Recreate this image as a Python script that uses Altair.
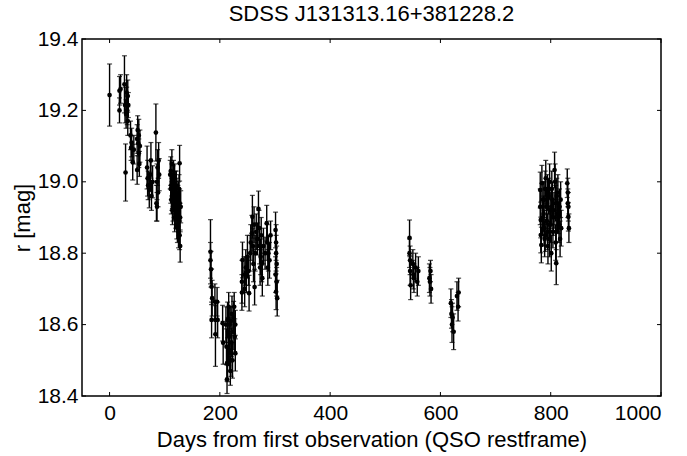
import altair as alt
import pandas as pd

# ---- data (days, r magnitude, 1-sigma error) ----
days = [
    0, 18, 18, 20, 27, 28, 29, 31, 31, 32, 33, 34, 30, 33,
    38, 39, 42, 44, 50, 51, 52, 53, 54, 50, 55, 40, 53,
    68, 69, 70, 72, 74, 75, 76, 78, 84, 85, 86, 87, 88, 89, 90, 86,
    110, 111, 112, 113, 114, 115, 116, 117, 118, 119, 120, 121, 122, 123, 124, 125, 126, 127, 127, 128, 128, 118, 113, 122,
    111, 112, 114, 115, 116, 117, 119, 120, 121, 123, 124, 126, 127, 125, 129,
    183, 183, 184, 185, 186, 185, 191, 192, 192, 195, 196,
    205, 206, 211, 212, 213, 213, 214, 215, 216, 217, 218, 219, 220, 221, 222, 223, 226, 227, 228, 228,
    214, 216, 218, 220, 224, 225,
    240, 240, 241, 244, 245, 247, 250, 252, 253, 255, 258, 259, 260, 261, 263, 264, 266, 270, 271, 272, 274, 276, 277, 279, 285, 286, 288, 290, 292,
    248, 256, 262, 268, 273, 275, 282, 287,
    301, 302, 302, 303, 301, 302, 304, 303,
    544, 544, 545, 545, 546, 550, 551, 552, 555, 558, 560,
    580, 581, 582, 583,
    619, 620, 621, 622, 624, 630, 632, 633,
    781, 781, 782, 782, 783, 784, 786, 787, 788, 789, 790, 792, 793, 794, 795, 796, 798, 799, 800, 801, 803, 805, 807, 808, 809, 810, 810, 812, 813, 815, 816, 817,
    785, 788, 790, 791, 794, 797, 798, 801, 802, 804, 806, 809, 811, 814, 818, 819,
    830, 831, 831, 832, 832, 833,
]
mags = [
    19.243, 19.255, 19.20, 19.26, 19.273, 19.215, 19.026, 19.25, 19.225, 19.20, 19.17, 19.215, 19.19, 19.24,
    19.13, 19.095, 19.055, 19.09, 19.12, 19.145, 19.108, 19.08, 19.05, 19.033, 19.10, 19.11, 19.13,
    19.04, 19.01, 18.99, 18.977, 19.02, 19.06, 18.96, 19.00, 19.138, 18.94, 19.00, 19.04, 18.97, 19.06, 19.02, 18.93,
    19.02, 18.98, 18.95, 19.05, 18.92, 19.00, 18.97, 18.94, 18.90, 18.99, 18.96, 18.93, 18.88, 18.91, 18.95, 18.86, 18.98, 19.052, 18.94, 18.90, 18.82, 19.01, 18.96, 18.97,
    19.03, 18.99, 18.97, 18.93, 19.02, 18.98, 18.94, 18.91, 18.99, 18.87, 18.92, 18.89, 18.85, 18.96, 18.93,
    18.804, 18.78, 18.755, 18.706, 18.674, 18.613, 18.664, 18.613, 18.573, 18.664, 18.613,
    18.604, 18.549, 18.60, 18.538, 18.492, 18.447, 18.613, 18.58, 18.65, 18.566, 18.52, 18.47, 18.61, 18.55, 18.63, 18.50, 18.65, 18.566, 18.60, 18.52,
    18.49, 18.53, 18.60, 18.50, 18.58, 18.62,
    18.72, 18.69, 18.781, 18.74, 18.70, 18.76, 18.79, 18.75, 18.688, 18.80, 18.856, 18.902, 18.82, 18.77, 18.705, 18.80, 18.86, 18.924, 18.87, 18.82, 18.79, 18.77, 18.73, 18.82, 18.884, 18.83, 18.80, 18.78, 18.85,
    18.74, 18.83, 18.88, 18.84, 18.76, 18.85, 18.80, 18.76,
    18.865, 18.83, 18.80, 18.77, 18.74, 18.692, 18.674, 18.72,
    18.843, 18.80, 18.78, 18.75, 18.71, 18.77, 18.74, 18.73, 18.76, 18.72, 18.75,
    18.73, 18.72, 18.75, 18.70,
    18.66, 18.63, 18.60, 18.62, 18.58, 18.68, 18.65, 18.69,
    18.977, 18.93, 18.893, 18.851, 18.823, 18.996, 18.95, 18.91, 18.87, 18.84, 18.98, 18.93, 18.89, 18.86, 18.82, 18.96, 19.00, 18.92, 18.88, 18.80, 18.95, 18.90, 19.033, 19.00, 18.94, 18.772, 18.86, 18.91, 18.97, 18.88, 18.93, 18.84,
    18.90, 18.95, 18.85, 19.01, 18.97, 18.88, 18.84, 18.93, 18.98, 18.86, 18.92, 18.83, 18.96, 18.90, 18.95, 18.87,
    18.996, 18.97, 18.94, 18.902, 18.93, 18.87,
]
errs = [
    0.087, 0.04, 0.035, 0.04, 0.08, 0.05, 0.08, 0.05, 0.04, 0.04, 0.04, 0.035, 0.04, 0.045,
    0.04, 0.035, 0.05, 0.04, 0.04, 0.04, 0.035, 0.04, 0.035, 0.04, 0.045, 0.04, 0.045,
    0.06, 0.05, 0.04, 0.05, 0.04, 0.05, 0.04, 0.045, 0.08, 0.05, 0.05, 0.05, 0.04, 0.05, 0.045, 0.04,
    0.04, 0.04, 0.04, 0.04, 0.04, 0.045, 0.04, 0.04, 0.04, 0.04, 0.04, 0.04, 0.04, 0.04, 0.04, 0.045, 0.04, 0.05, 0.04, 0.04, 0.045, 0.04, 0.04, 0.04,
    0.04, 0.04, 0.045, 0.04, 0.04, 0.04, 0.045, 0.04, 0.04, 0.04, 0.045, 0.04, 0.04, 0.04, 0.045,
    0.09, 0.05, 0.05, 0.05, 0.05, 0.05, 0.05, 0.04, 0.09, 0.04, 0.05,
    0.05, 0.06, 0.05, 0.05, 0.05, 0.04, 0.05, 0.04, 0.04, 0.05, 0.05, 0.04, 0.04, 0.04, 0.05, 0.05, 0.04, 0.05, 0.04, 0.05,
    0.05, 0.045, 0.05, 0.045, 0.05, 0.045,
    0.06, 0.05, 0.05, 0.05, 0.05, 0.05, 0.06, 0.04, 0.05, 0.05, 0.05, 0.06, 0.05, 0.05, 0.05, 0.05, 0.05, 0.05, 0.05, 0.05, 0.05, 0.05, 0.05, 0.05, 0.05, 0.05, 0.05, 0.05, 0.04,
    0.05, 0.05, 0.05, 0.045, 0.05, 0.05, 0.045, 0.05,
    0.05, 0.05, 0.05, 0.05, 0.05, 0.05, 0.05, 0.04,
    0.05, 0.04, 0.04, 0.04, 0.04, 0.04, 0.04, 0.04, 0.04, 0.04, 0.04,
    0.04, 0.04, 0.03, 0.04,
    0.04, 0.04, 0.05, 0.04, 0.05, 0.04, 0.04, 0.04,
    0.05, 0.05, 0.05, 0.05, 0.05, 0.05, 0.05, 0.05, 0.05, 0.05, 0.05, 0.05, 0.05, 0.05, 0.05, 0.05, 0.05, 0.05, 0.05, 0.05, 0.05, 0.05, 0.05, 0.05, 0.05, 0.06, 0.05, 0.05, 0.05, 0.05, 0.05, 0.05,
    0.05, 0.05, 0.045, 0.05, 0.05, 0.045, 0.05, 0.05, 0.05, 0.045, 0.05, 0.05, 0.05, 0.045, 0.05, 0.05,
    0.04, 0.04, 0.04, 0.04, 0.04, 0.04,
]

x_ticks = [0, 200, 400, 600, 800, 1000]
y_ticks = [18.4, 18.6, 18.8, 19.0, 19.2, 19.4]

title_text = "SDSS J131313.16+381228.2"
x_title = "Days from first observation (QSO restframe)"
y_title = "r [mag]"

# ---- build tables ----
df = pd.DataFrame({"day": days, "mag": mags, "err": errs})
df["lo"] = df["mag"] - df["err"]
df["hi"] = df["mag"] + df["err"]
xt = pd.DataFrame({"t": x_ticks})
yt = pd.DataFrame({"t": y_ticks})

W, H = 579, 357
FONT = "Liberation Sans"

xscale = alt.Scale(domain=[-50, 1000], nice=False, zero=False)
yscale = alt.Scale(domain=[18.4, 19.4], nice=False, zero=False)

xaxis = alt.Axis(values=x_ticks, format="d", ticks=False, domain=False, grid=False,
                 title=x_title, labelFontSize=21, titleFontSize=22, labelPadding=6,
                 titlePadding=6, labelFont=FONT, titleFont=FONT, labelColor="black",
                 titleColor="black", titleFontWeight="normal")
yaxis = alt.Axis(values=y_ticks, format=".1f", ticks=False, domain=False, grid=False,
                 title=y_title, labelFontSize=21, titleFontSize=22, labelPadding=4,
                 titlePadding=3, labelFont=FONT, titleFont=FONT, labelColor="black",
                 titleColor="black", titleFontWeight="normal")

base = alt.Chart(df)

bars = base.mark_rule(color="black", strokeWidth=1.4, clip=True).encode(
    x=alt.X("day:Q", scale=xscale, axis=xaxis),
    y=alt.Y("lo:Q", scale=yscale, axis=yaxis),
    y2="hi:Q",
)
cap_lo = base.mark_tick(color="black", orient="horizontal", size=5, thickness=1.2, clip=True).encode(
    x=alt.X("day:Q", scale=xscale), y=alt.Y("lo:Q", scale=yscale))
cap_hi = base.mark_tick(color="black", orient="horizontal", size=5, thickness=1.2, clip=True).encode(
    x=alt.X("day:Q", scale=xscale), y=alt.Y("hi:Q", scale=yscale))
pts = base.mark_circle(color="black", size=22, opacity=1, clip=True).encode(
    x=alt.X("day:Q", scale=xscale), y=alt.Y("mag:Q", scale=yscale))

# inward tick marks on all four sides
top_t = alt.Chart(xt).mark_rule(color="black", strokeWidth=1).encode(
    x=alt.X("t:Q", scale=xscale), y=alt.value(0), y2=alt.value(4))
bot_t = alt.Chart(xt).mark_rule(color="black", strokeWidth=1).encode(
    x=alt.X("t:Q", scale=xscale), y=alt.value(H), y2=alt.value(H - 4))
left_t = alt.Chart(yt).mark_rule(color="black", strokeWidth=1).encode(
    y=alt.Y("t:Q", scale=yscale), x=alt.value(0), x2=alt.value(4))
right_t = alt.Chart(yt).mark_rule(color="black", strokeWidth=1).encode(
    y=alt.Y("t:Q", scale=yscale), x=alt.value(W), x2=alt.value(W - 4))

chart = alt.layer(bars, cap_lo, cap_hi, pts, top_t, bot_t, left_t, right_t).properties(
    width=W, height=H,
    title=alt.Title(title_text, fontSize=22, font=FONT, fontWeight="normal", color="black",
                    anchor="middle", offset=2),
    autosize=alt.AutoSizeParams(type="none"),
    padding={"left": 82, "top": 39, "right": 26, "bottom": 60},
    background="white",
).configure_view(stroke="black", strokeWidth=1.5, strokeOpacity=1)

chart.save("out.html", embed_options={"renderer": "svg", "actions": False})
